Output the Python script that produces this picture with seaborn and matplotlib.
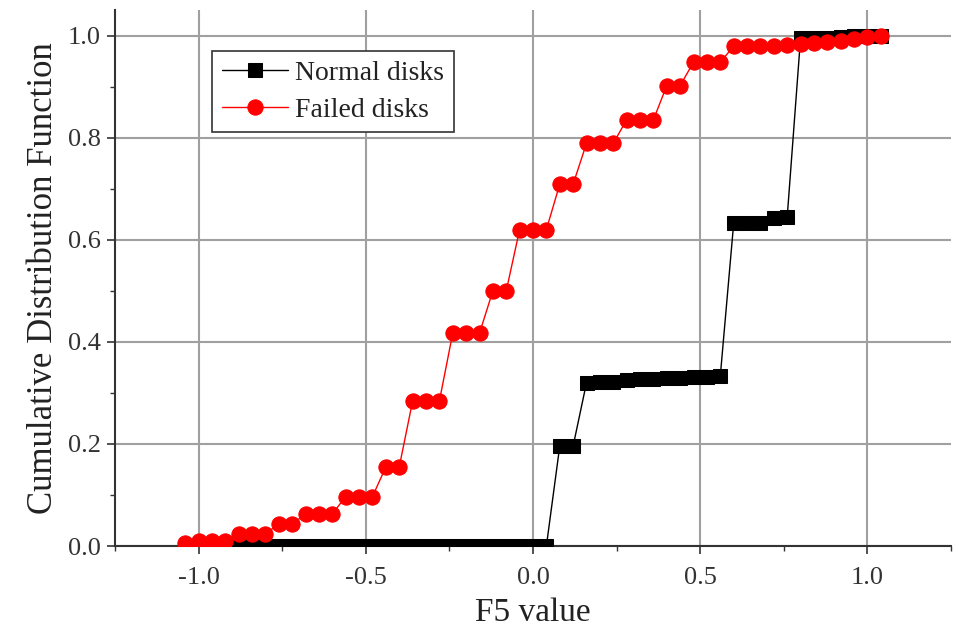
import matplotlib
matplotlib.use("Agg")
import matplotlib.pyplot as plt
import seaborn as sns
import pandas as pd
from matplotlib.ticker import MultipleLocator

# ---- data ----
failed_x = [-1.04, -1.00, -0.96, -0.92, -0.88, -0.84, -0.80, -0.76, -0.72, -0.68,
            -0.64, -0.60, -0.56, -0.52, -0.48, -0.44, -0.40, -0.36, -0.32, -0.28,
            -0.24, -0.20, -0.16, -0.12, -0.08, -0.04, 0.00, 0.04, 0.08, 0.12,
            0.16, 0.20, 0.24, 0.28, 0.32, 0.36, 0.40, 0.44, 0.48, 0.52,
            0.56, 0.60, 0.64, 0.68, 0.72, 0.76, 0.80, 0.84, 0.88, 0.92,
            0.96, 1.00, 1.04]
failed_y = [0.005, 0.010, 0.010, 0.010, 0.024, 0.024, 0.024, 0.043, 0.043, 0.063,
            0.063, 0.063, 0.097, 0.097, 0.097, 0.155, 0.155, 0.284, 0.284, 0.284,
            0.417, 0.417, 0.417, 0.500, 0.500, 0.620, 0.620, 0.620, 0.709, 0.709,
            0.789, 0.789, 0.789, 0.835, 0.835, 0.835, 0.902, 0.902, 0.948, 0.948,
            0.948, 0.979, 0.979, 0.979, 0.980, 0.981, 0.983, 0.986, 0.988, 0.990,
            0.993, 0.998, 1.000]

normal_x = [-0.88, -0.84, -0.80, -0.76, -0.72, -0.68, -0.64, -0.60, -0.56, -0.52,
            -0.48, -0.44, -0.40, -0.36, -0.32, -0.28, -0.24, -0.20, -0.16, -0.12,
            -0.08, -0.04, 0.00, 0.04, 0.08, 0.12, 0.16, 0.20, 0.24, 0.28,
            0.32, 0.36, 0.40, 0.44, 0.48, 0.52, 0.56, 0.60, 0.64, 0.68,
            0.72, 0.76, 0.80, 0.84, 0.88, 0.92, 0.96, 1.00, 1.04]
normal_y = [0.000, 0.000, 0.000, 0.000, 0.000, 0.000, 0.000, 0.000, 0.000, 0.000,
            0.000, 0.000, 0.000, 0.000, 0.000, 0.000, 0.000, 0.000, 0.000, 0.000,
            0.000, 0.000, 0.000, 0.000, 0.196, 0.196, 0.320, 0.321, 0.322, 0.326,
            0.327, 0.328, 0.329, 0.330, 0.331, 0.332, 0.333, 0.632, 0.632, 0.633,
            0.643, 0.644, 0.995, 0.996, 0.996, 0.998, 0.999, 1.000, 1.000]

x_ticks = [-1.0, -0.5, 0.0, 0.5, 1.0]
x_tick_labels = ["-1.0", "-0.5", "0.0", "0.5", "1.0"]
y_ticks = [0.0, 0.2, 0.4, 0.6, 0.8, 1.0]
y_tick_labels = ["0.0", "0.2", "0.4", "0.6", "0.8", "1.0"]

sns.set_style("ticks")
plt.rcParams["font.family"] = ["Liberation Serif", "DejaVu Serif"]

fig = plt.figure(figsize=(9.59, 6.30), dpi=100)
ax = fig.add_axes([0.1199, 0.1333, 0.8718, 0.8507])

df_normal = pd.DataFrame({"x": normal_x, "y": normal_y})
df_failed = pd.DataFrame({"x": failed_x, "y": failed_y})

sns.lineplot(data=df_normal, x="x", y="y", ax=ax, color="black", linewidth=1.0,
             marker="s", markersize=10, markeredgecolor="black", markerfacecolor="black",
             sort=False, estimator=None, label="Normal disks", zorder=3)
sns.lineplot(data=df_failed, x="x", y="y", ax=ax, color="#ff0000", linewidth=1.0,
             marker="o", markersize=11, markeredgecolor="#ff0000", markerfacecolor="#ff0000",
             sort=False, estimator=None, label="Failed disks", zorder=4)

ax.set_xlim(-1.25, 1.25)
ax.set_ylim(0.0, 1.05)
ax.set_xticks(x_ticks)
ax.set_xticklabels(x_tick_labels)
ax.set_yticks(y_ticks)
ax.set_yticklabels(y_tick_labels)
ax.xaxis.set_minor_locator(MultipleLocator(0.25))
ax.yaxis.set_minor_locator(MultipleLocator(0.1))

ax.grid(True, which="major", color="#a0a0a0", linewidth=1.5, zorder=0)
ax.set_axisbelow(True)

for side in ["top", "right"]:
    ax.spines[side].set_visible(False)
for side in ["left", "bottom"]:
    ax.spines[side].set_color("#333333")
    ax.spines[side].set_linewidth(1.5)

ax.tick_params(axis="both", which="major", direction="out", length=6, width=1.2,
               color="#333333", labelsize=19, labelcolor="#333333")
ax.tick_params(axis="x", which="major", pad=9)
ax.tick_params(axis="y", which="major", pad=4)
ax.tick_params(axis="both", which="minor", direction="out", length=3.5, width=1.0,
               color="#333333")

ax.set_xlabel("F5 value", fontsize=24, color="#222222", labelpad=6)
ax.set_ylabel("Cumulative Distribution Function", fontsize=25, color="#222222", labelpad=6)

leg = ax.legend(loc="upper left", bbox_to_anchor=(0.116, 0.924), borderaxespad=0,
                fontsize=20, frameon=True, fancybox=False, framealpha=1,
                edgecolor="#333333", handlelength=2.4, handletextpad=0.25,
                borderpad=0.35, labelspacing=0.4)
leg.get_frame().set_linewidth(1.2)
for t in leg.get_texts():
    t.set_color("#222222")

fig.savefig("out.png", dpi=100)
